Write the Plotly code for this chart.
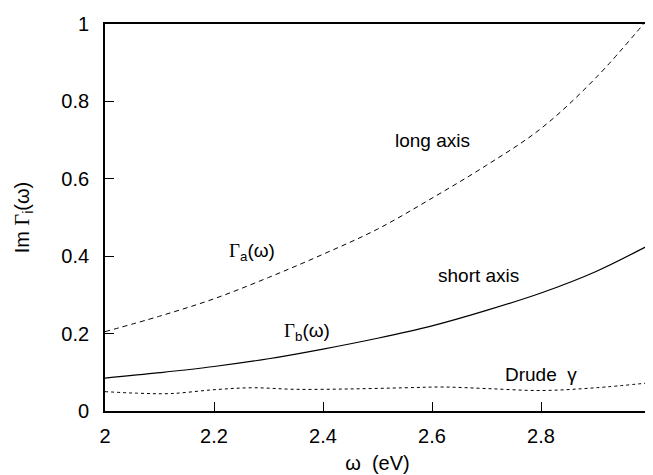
import plotly.graph_objects as go

omega = [2.0, 2.1, 2.2, 2.3, 2.4, 2.5, 2.6, 2.7, 2.8, 2.9, 3.0]
gamma_a = [0.205, 0.245, 0.29, 0.345, 0.405, 0.47, 0.55, 0.635, 0.73, 0.86, 1.02]
gamma_b = [0.085, 0.099, 0.115, 0.135, 0.16, 0.188, 0.22, 0.26, 0.305, 0.36, 0.43]
omega_d = [2.0, 2.06, 2.12, 2.2, 2.27, 2.35, 2.45, 2.55, 2.62, 2.7, 2.8, 2.9, 3.0]
drude = [0.05, 0.046, 0.045, 0.055, 0.06, 0.056, 0.057, 0.06, 0.062, 0.058, 0.053, 0.06, 0.073]

x_ticks = [2, 2.2, 2.4, 2.6, 2.8, 3]
y_ticks = [0, 0.2, 0.4, 0.6, 0.8, 1]

fig = go.Figure()
fig.add_trace(go.Scatter(x=omega, y=gamma_a, mode="lines", line=dict(color="black", width=1, dash="5px,4px", shape="spline"), showlegend=False))
fig.add_trace(go.Scatter(x=omega, y=gamma_b, mode="lines", line=dict(color="black", width=1.2, shape="spline"), showlegend=False))
fig.add_trace(go.Scatter(x=omega_d, y=drude, mode="lines", line=dict(color="black", width=1, dash="3px,3px", shape="spline"), showlegend=False))

G = '<span style="font-family:Liberation Serif">Γ</span>'
anns = [
    (2.6, 0.70, "long axis"),
    (2.27, 0.41, G + "<sub>a</sub>(ω)"),
    (2.685, 0.35, "short axis"),
    (2.37, 0.205, G + "<sub>b</sub>(ω)"),
    (2.8, 0.095, "Drude  γ"),
]
for x, y, t in anns:
    fig.add_annotation(x=x, y=y, text=t, showarrow=False, font=dict(size=19, color="black"))

axis_common = dict(showgrid=False, zeroline=False, showline=True, linecolor="black", linewidth=1.8,
                   mirror=True, ticks="inside", ticklen=9, tickcolor="black", tickwidth=1.2,
                   tickfont=dict(size=20, color="black"), ticklabeloverflow="allow")
fig.update_xaxes(range=[2, 3], tickvals=x_ticks, ticktext=[str(v) for v in x_ticks], ticklabelstandoff=6,
                 title=dict(text="ω  (eV)", font=dict(size=20, color="black"), standoff=10), **axis_common)
fig.update_yaxes(range=[0, 1], tickvals=y_ticks, ticktext=[str(v) for v in y_ticks], ticklabelstandoff=10,
                 title=dict(text="Im " + G + "<sub>i</sub>(ω)", font=dict(size=20, color="black"), standoff=26), **axis_common)
fig.update_layout(width=653, height=475, margin=dict(l=97, r=5, t=14, b=72),
                  plot_bgcolor="white", paper_bgcolor="white",
                  font=dict(family="Liberation Sans, Arial, sans-serif", color="black"))
fig.write_html("out.html")
